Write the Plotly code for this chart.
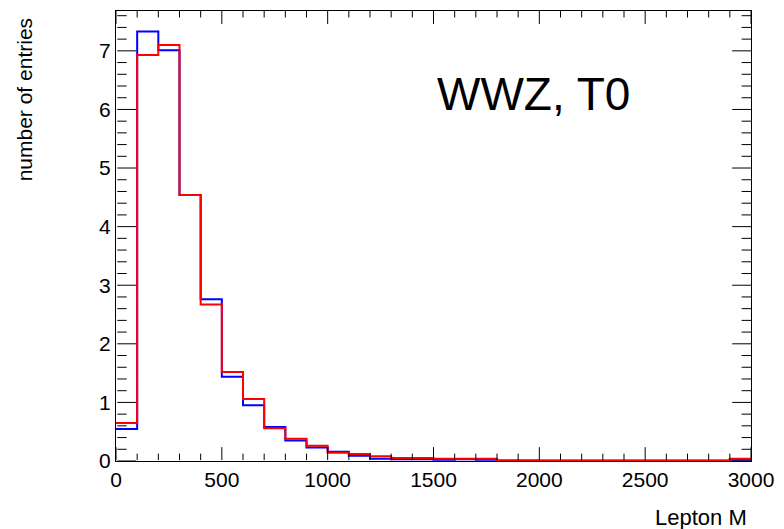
import numpy as np
import plotly.graph_objects as go

bin_width = 100
n_bins = 30
blue_vals = [0.545, 7.33, 7.01, 4.54, 2.76, 1.44, 0.95, 0.58, 0.35, 0.23,
             0.16, 0.09, 0.04, 0.03, 0.03, 0.02, 0.03, 0.02, 0.01, 0.01,
             0.005, 0.005, 0.005, 0.005, 0.005, 0.005, 0.005, 0.005, 0.005, 0.02]
red_vals = [0.647, 6.93, 7.10, 4.54, 2.67, 1.52, 1.06, 0.56, 0.38, 0.26,
            0.14, 0.12, 0.08, 0.05, 0.05, 0.04, 0.04, 0.04, 0.01, 0.01,
            0.01, 0.01, 0.01, 0.01, 0.01, 0.01, 0.01, 0.01, 0.01, 0.04]
x_range = [0, 3000]
y_range = [0, 7.68]
x_major_step = 500
x_minor_step = 100
y_major_step = 1
y_minor_step = 0.2

edges = np.arange(n_bins + 1) * bin_width


def step(vals):
    return list(edges), list(vals) + [vals[-1]]


fig = go.Figure()
for vals, col in [(blue_vals, "#0000ff"), (red_vals, "#ff0000")]:
    xs, ys = step(vals)
    fig.add_trace(go.Scatter(x=xs, y=ys, mode="lines", line=dict(color=col, width=2, shape="hv"),
                             showlegend=False, hoverinfo="skip"))

font_family = "Liberation Sans, Arial, sans-serif"
fig.update_layout(
    width=784, height=529,
    margin=dict(l=116, r=27, t=10, b=68),
    plot_bgcolor="white", paper_bgcolor="white",
    font=dict(family=font_family, color="black", size=21),
    showlegend=False,
)
fig.update_xaxes(
    range=x_range, tickmode="linear", tick0=0, dtick=x_major_step, ticks="",
    showline=True, linecolor="black", linewidth=1, mirror=True, showgrid=False, zeroline=False,
    tickfont=dict(size=21),
)
fig.update_yaxes(
    range=y_range, tickmode="linear", tick0=0, dtick=y_major_step, ticks="",
    showline=True, linecolor="black", linewidth=1, mirror=True, showgrid=False, zeroline=False,
    tickfont=dict(size=21),
)

# ROOT-style inside ticks: bottom/left (primary) and top/right (mirrored)
px_w = 784 - 116 - 27
px_h = 529 - 10 - 68
n_xminor = int(round((x_range[1] - x_range[0]) / x_minor_step))
n_yminor = int(np.floor((y_range[1] - y_range[0]) / y_minor_step + 1e-9))


def x_tick_path(base, sign):
    p = ""
    for i in range(n_xminor + 1):
        v = x_range[0] + i * x_minor_step
        L = (13 if abs(v / x_major_step - round(v / x_major_step)) < 1e-9 else 6.5) / px_h
        p += f"M{v},{base} L{v},{base + sign * L} "
    return p.strip()


def y_tick_path(base, sign):
    p = ""
    for i in range(n_yminor + 1):
        v = y_range[0] + i * y_minor_step
        L = (19 if abs(v / y_major_step - round(v / y_major_step)) < 1e-9 else 9.5) / px_w
        p += f"M{base},{v} L{base + sign * L},{v} "
    return p.strip()


tick_line = dict(color="black", width=1)
fig.add_shape(type="path", xref="x", yref="paper", path=x_tick_path(0.002, 1),
              line=tick_line, layer="above")
fig.add_shape(type="path", xref="x", yref="paper", path=x_tick_path(1, -1),
              line=tick_line, layer="above")
fig.add_shape(type="path", xref="paper", yref="y", path=y_tick_path(0.002, 1),
              line=tick_line, layer="above")
fig.add_shape(type="path", xref="paper", yref="y", path=y_tick_path(1, -1),
              line=tick_line, layer="above")

fig.add_annotation(text="WWZ, T0", xref="paper", yref="paper",
                   x=(537 - 116) / 641, y=1 - (93 - 10) / 451, xanchor="center", yanchor="middle",
                   showarrow=False, font=dict(size=46, family=font_family))
fig.add_annotation(text="number of entries", xref="paper", yref="paper",
                   x=(24 - 116) / 641, y=1 - (15 - 10) / 451, xanchor="center", yanchor="top",
                   textangle=-90, showarrow=False, font=dict(size=21, family=font_family))
fig.add_annotation(text="Lepton M", xref="paper", yref="paper",
                   x=(755 - 116) / 641, y=-(518 - 461) / 451, xanchor="right", yanchor="middle",
                   showarrow=False, font=dict(size=22, family=font_family))
fig.write_html("out.html")
